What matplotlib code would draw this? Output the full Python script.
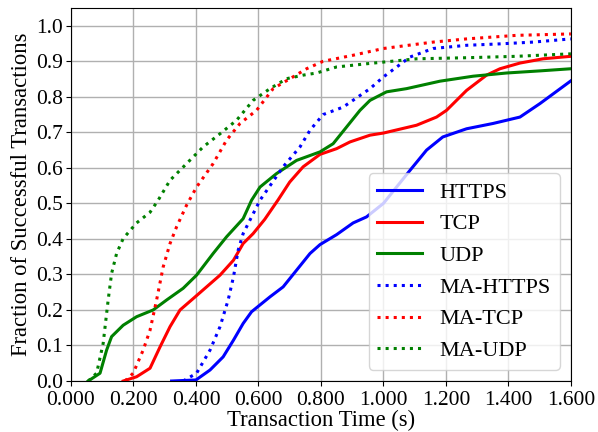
import matplotlib
matplotlib.use("Agg")
import matplotlib.pyplot as plt
from matplotlib.ticker import FormatStrFormatter

plt.rcParams['font.family'] = ['Liberation Serif', 'DejaVu Serif']
plt.rcParams['mathtext.fontset'] = 'stix'

https_x = [0.322, 0.40, 0.445, 0.487, 0.52, 0.551, 0.578, 0.637, 0.679, 0.722, 0.765, 0.797, 0.85, 0.903, 0.946, 1.0, 1.085, 1.138, 1.19, 1.266, 1.351, 1.437, 1.501, 1.6]
https_y = [0.0, 0.003, 0.031, 0.068, 0.115, 0.162, 0.195, 0.237, 0.265, 0.312, 0.359, 0.384, 0.412, 0.445, 0.462, 0.50, 0.593, 0.65, 0.687, 0.710, 0.725, 0.743, 0.781, 0.845]

tcp_x = [0.167, 0.21, 0.253, 0.285, 0.317, 0.349, 0.391, 0.434, 0.477, 0.52, 0.551, 0.583, 0.62, 0.663, 0.700, 0.743, 0.797, 0.85, 0.893, 0.957, 1.0, 1.106, 1.17, 1.202, 1.266, 1.33, 1.373, 1.437, 1.511, 1.6]
tcp_y = [0.0, 0.012, 0.036, 0.096, 0.153, 0.2, 0.232, 0.265, 0.298, 0.34, 0.387, 0.415, 0.455, 0.51, 0.56, 0.603, 0.638, 0.654, 0.673, 0.692, 0.698, 0.72, 0.743, 0.762, 0.818, 0.861, 0.879, 0.895, 0.907, 0.914]

udp_x = [0.055, 0.093, 0.114, 0.13, 0.167, 0.21, 0.263, 0.306, 0.359, 0.402, 0.455, 0.498, 0.551, 0.578, 0.605, 0.658, 0.722, 0.797, 0.839, 0.882, 0.925, 0.957, 1.01, 1.074, 1.181, 1.287, 1.394, 1.501, 1.6]
udp_y = [0.0, 0.022, 0.087, 0.125, 0.157, 0.181, 0.2, 0.228, 0.261, 0.298, 0.359, 0.406, 0.457, 0.509, 0.546, 0.584, 0.621, 0.645, 0.668, 0.715, 0.762, 0.79, 0.814, 0.823, 0.844, 0.858, 0.867, 0.873, 0.879]

ma_https_x = [0.359, 0.402, 0.445, 0.477, 0.503, 0.52, 0.535, 0.551, 0.578, 0.605, 0.679, 0.733, 0.765, 0.807, 0.871, 0.957, 1.0, 1.085, 1.159, 1.266, 1.373, 1.479, 1.6]
ma_https_y = [0.0, 0.022, 0.087, 0.153, 0.228, 0.293, 0.368, 0.415, 0.462, 0.509, 0.603, 0.659, 0.706, 0.750, 0.771, 0.823, 0.856, 0.912, 0.936, 0.945, 0.949, 0.954, 0.963]

ma_tcp_x = [0.173, 0.199, 0.231, 0.253, 0.274, 0.295, 0.317, 0.338, 0.37, 0.402, 0.455, 0.498, 0.541, 0.594, 0.647, 0.701, 0.754, 0.807, 0.903, 1.0, 1.159, 1.266, 1.426, 1.6]
ma_tcp_y = [0.0, 0.022, 0.087, 0.143, 0.228, 0.321, 0.387, 0.434, 0.495, 0.546, 0.612, 0.678, 0.725, 0.762, 0.823, 0.851, 0.879, 0.900, 0.917, 0.936, 0.954, 0.963, 0.973, 0.977]

ma_udp_x = [0.055, 0.082, 0.103, 0.119, 0.13, 0.146, 0.167, 0.21, 0.253, 0.279, 0.317, 0.37, 0.423, 0.477, 0.53, 0.583, 0.637, 0.69, 0.743, 0.786, 0.85, 0.946, 1.106, 1.266, 1.426, 1.6]
ma_udp_y = [0.0, 0.022, 0.106, 0.228, 0.303, 0.359, 0.401, 0.445, 0.475, 0.509, 0.565, 0.612, 0.659, 0.696, 0.734, 0.79, 0.823, 0.851, 0.861, 0.867, 0.884, 0.893, 0.907, 0.910, 0.914, 0.921]

series = [
    ("HTTPS", https_x, https_y, "blue", "-"),
    ("TCP", tcp_x, tcp_y, "red", "-"),
    ("UDP", udp_x, udp_y, "green", "-"),
    ("MA-HTTPS", ma_https_x, ma_https_y, "blue", ":"),
    ("MA-TCP", ma_tcp_x, ma_tcp_y, "red", ":"),
    ("MA-UDP", ma_udp_x, ma_udp_y, "green", ":"),
]

x_ticks = [0.0, 0.2, 0.4, 0.6, 0.8, 1.0, 1.2, 1.4, 1.6]
y_ticks = [0.0, 0.1, 0.2, 0.3, 0.4, 0.5, 0.6, 0.7, 0.8, 0.9, 1.0]

fig = plt.figure(figsize=(5.98, 4.32), dpi=100)
ax = fig.add_axes([0.1187, 0.118, 0.836, 0.8635])
for name, xs, ys, c, ls in series:
    ax.plot(xs, ys, color=c, linestyle=ls, linewidth=2.2, label=name)

ax.set_xlim(0, 1.6)
ax.set_ylim(0, 1.05)
ax.set_xticks(x_ticks)
ax.set_yticks(y_ticks)
ax.xaxis.set_major_formatter(FormatStrFormatter('%.3f'))
ax.yaxis.set_major_formatter(FormatStrFormatter('%.1f'))
ax.tick_params(axis='x', labelsize=15.5, pad=3.5)
ax.tick_params(axis='y', labelsize=15.5, pad=2)
ax.grid(True, color='#b0b0b0', linewidth=1.0)
ax.set_axisbelow(True)
ax.set_xlabel("Transaction Time (s)", fontsize=16.3, labelpad=0)
ax.set_ylabel("Fraction of Successful Transactions", fontsize=16.3, labelpad=3)
ax.legend(loc='lower right', fontsize=16)
fig.savefig("out.png", dpi=100)
